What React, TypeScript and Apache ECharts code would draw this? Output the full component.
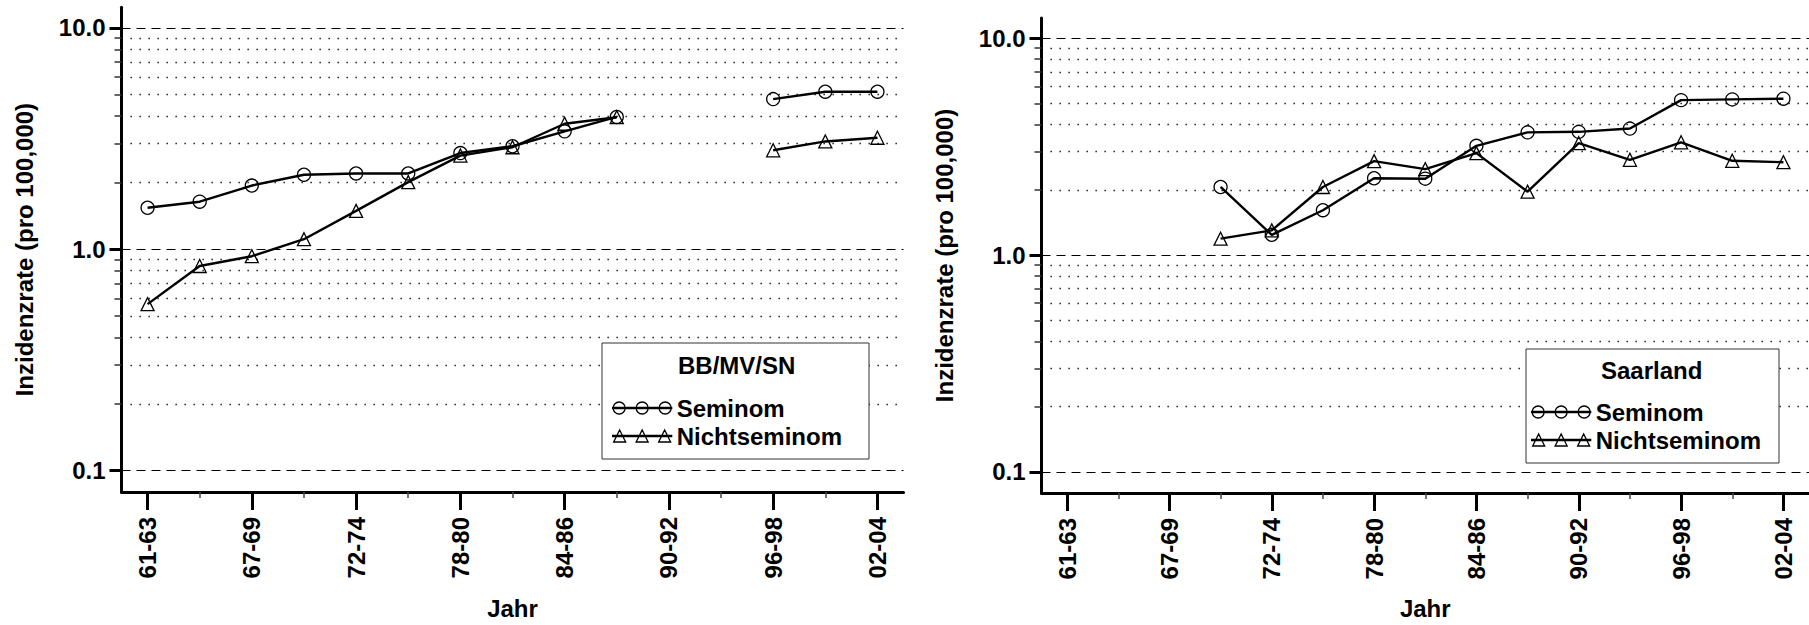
import React, { useEffect, useRef } from 'react';
import * as echarts from 'echarts';

// ---------------- data ----------------
const categories = ['61-63', '64-66', '67-69', '70-71', '72-74', '75-77', '78-80', '81-83', '84-86', '87-89', '90-92', '93-95', '96-98', '99-01', '02-04'];

const seminomBBMVSN = [1.54, 1.64, 1.94, 2.17, 2.2, 2.2, 2.72, 2.92, 3.41, 3.96, null, null, 4.77, 5.15, 5.15];
const nichtseminomBBMVSN = [0.565, 0.84, 0.93, 1.11, 1.49, 2.01, 2.65, 2.89, 3.69, 3.95, null, null, 2.8, 3.07, 3.19];

const seminomSaarland = [null, null, null, 2.06, 1.24, 1.61, 2.26, 2.25, 3.19, 3.68, 3.7, 3.83, 5.18, 5.22, 5.26];
const nichtseminomSaarland = [null, null, null, 1.19, 1.3, 2.06, 2.71, 2.49, 2.95, 1.96, 3.28, 2.75, 3.31, 2.72, 2.68];

const decadeTicks = [0.1, 1, 10];
const minorTicks = [0.2, 0.3, 0.4, 0.5, 0.6, 0.7, 0.8, 0.9, 2, 3, 4, 5, 6, 7, 8, 9];

const panelTitles = ['BB/MV/SN', 'Saarland'];
const seriesNames = ['Seminom', 'Nichtseminom'];
const yAxisName = 'Inzidenzrate (pro 100,000)';
const xAxisName = 'Jahr';
const yMin = 0.08;
const yMax = 12.4;

// ---------------- styling / layout ----------------
const FONT = "'Liberation Sans', Arial, Helvetica, sans-serif";

const panels = [
  {
    seminom: seminomBBMVSN,
    nicht: nichtseminomBBMVSN,
    title: panelTitles[0],
    left: 121.5, width: 782, top: 7.25, height: 486.6,
    legendLeft: 602, legendTop: 343, legendPadding: [53, 27, 11, 10],
    titleX: 736.7, titleTop: 353, xNameGap: 104,
  },
  {
    seminom: seminomSaarland,
    nicht: nichtseminomSaarland,
    title: panelTitles[1],
    left: 1041.5, width: 768, top: 17.9, height: 477.9,
    legendLeft: 1526, legendTop: 349, legendPadding: [51, 18, 11, 5],
    titleX: 1651.7, titleTop: 358, xNameGap: 103,
  },
];

const circleIcon =
  'path://M0,6 H59 V7 H0 Z ' +
  'M0.5,6.5 A6,6 0 1 1 12.5,6.5 A6,6 0 1 1 0.5,6.5 Z ' +
  'M23.5,6.5 A6,6 0 1 1 35.5,6.5 A6,6 0 1 1 23.5,6.5 Z ' +
  'M46.5,6.5 A6,6 0 1 1 58.5,6.5 A6,6 0 1 1 46.5,6.5 Z';
const triangleIcon =
  'path://M0,6 H59 V7 H0 Z ' +
  'M1,12.5 L7,0.5 L13,12.5 Z ' +
  'M23.5,12.5 L29.5,0.5 L35.5,12.5 Z ' +
  'M46,12.5 L52,0.5 L58,12.5 Z';

const boldText = { fontFamily: FONT, fontWeight: 'bold' as const, fontSize: 24, color: '#000' };

function yLabel(v: number) {
  const l = Math.log10(v);
  return Math.abs(l - Math.round(l)) < 1e-6 ? v.toFixed(1) : '';
}

function buildOption() {
  const grid: any[] = [];
  const xAxis: any[] = [];
  const yAxis: any[] = [];
  const series: any[] = [];
  const legend: any[] = [];
  const title: any[] = [];

  panels.forEach((p, i) => {
    grid.push({ left: p.left, top: p.top, width: p.width, height: p.height, containLabel: false });

    // main category axis (labels + long ticks)
    xAxis.push({
      type: 'category',
      gridIndex: i,
      position: 'bottom',
      data: categories,
      boundaryGap: true,
      axisLine: { show: true, onZero: false, lineStyle: { color: '#000', width: 3 } },
      axisTick: {
        show: true,
        alignWithLabel: true,
        interval: (idx: number) => idx % 2 === 0,
        length: 18,
        lineStyle: { color: '#000', width: 3 },
      },
      axisLabel: { ...boldText, interval: 1, rotate: 90, margin: 25 },
      splitLine: { show: false },
      name: xAxisName,
      nameLocation: 'middle',
      nameGap: p.xNameGap,
      nameTextStyle: { ...boldText, lineHeight: 24 },
    });
    // overlay axis for the short ticks
    xAxis.push({
      type: 'category',
      gridIndex: i,
      position: 'bottom',
      data: categories,
      boundaryGap: true,
      axisLine: { show: false },
      axisTick: {
        show: true,
        alignWithLabel: true,
        interval: (idx: number) => idx % 2 === 1,
        length: 6,
        lineStyle: { color: '#444', width: 1.5 },
      },
      axisLabel: { show: false },
      splitLine: { show: false },
    });

    yAxis.push({
      type: 'log',
      logBase: 10,
      gridIndex: i,
      min: yMin,
      max: yMax,
      axisLine: { show: true, onZero: false, lineStyle: { color: '#000', width: 3 } },
      axisTick: { show: false },
      splitLine: { show: false },
      axisLabel: { ...boldText, margin: 16, formatter: yLabel },
      name: yAxisName,
      nameLocation: 'middle',
      nameGap: 85,
      nameRotate: 90,
      nameTextStyle: { ...boldText, lineHeight: 24 },
    });

    const gridLines = [
      ...decadeTicks.map((v) => ({ yAxis: v, lineStyle: { type: [9, 6], width: 1.2, color: '#000' } })),
      ...minorTicks.map((v) => ({ yAxis: v, lineStyle: { type: [1.3, 7.7], width: 1.3, color: '#000' } })),
    ];
    const tickLines = [
      ...decadeTicks.map((v) => [
        { x: p.left - 12, yAxis: v, lineStyle: { type: 'solid', width: 3, color: '#000' } },
        { x: p.left, yAxis: v },
      ]),
      ...minorTicks.map((v) => [
        { x: p.left - 7, yAxis: v, lineStyle: { type: 'solid', width: 1.5, color: '#333' } },
        { x: p.left, yAxis: v },
      ]),
    ];

    const common = {
      type: 'line',
      xAxisIndex: 2 * i,
      yAxisIndex: i,
      symbolSize: 13,
      showAllSymbol: true,
      connectNulls: false,
      lineStyle: { color: '#000', width: 2.4 },
      itemStyle: { color: 'rgba(0,0,0,0)', borderColor: '#000', borderWidth: 1.3 },
      emphasis: { disabled: true },
      z: 3,
    };

    series.push({
      ...common,
      name: seriesNames[0],
      symbol: 'circle',
      data: p.seminom,
      markLine: {
        silent: true,
        z: 1,
        symbol: ['none', 'none'],
        label: { show: false },
        emphasis: { disabled: true },
        data: [...gridLines, ...tickLines],
      },
    });
    series.push({
      ...common,
      name: seriesNames[1],
      symbol: 'triangle',
      data: p.nicht,
    });

    legend.push({
      orient: 'vertical',
      left: p.legendLeft,
      top: p.legendTop,
      padding: p.legendPadding,
      itemGap: 4,
      itemWidth: 59,
      itemHeight: 12,
      borderColor: '#333',
      borderWidth: 1,
      backgroundColor: '#fff',
      selectedMode: false,
      textStyle: { ...boldText, lineHeight: 24 },
      itemStyle: { color: 'rgba(0,0,0,0)', borderColor: '#000', borderWidth: 1.3 },
      data: [
        { name: seriesNames[0], icon: circleIcon },
        { name: seriesNames[1], icon: triangleIcon },
      ],
    });

    title.push({
      text: p.title,
      left: p.titleX,
      top: p.titleTop,
      textAlign: 'center',
      padding: 0,
      textStyle: { ...boldText, lineHeight: 24 },
    });
  });

  return {
    animation: false,
    backgroundColor: '#fff',
    title,
    legend,
    grid,
    xAxis,
    yAxis,
    series,
  };
}

export default function App() {
  const ref = useRef<HTMLDivElement | null>(null);

  useEffect(() => {
    if (!ref.current) return;
    const chart = echarts.init(ref.current, undefined, { renderer: 'svg' });
    chart.setOption(buildOption() as any);
    return () => {
      chart.dispose();
    };
  }, []);

  return (
    <div
      ref={ref}
      style={{ position: 'absolute', left: 0, top: 0, width: 1809, height: 625, background: '#fff' }}
    />
  );
}
